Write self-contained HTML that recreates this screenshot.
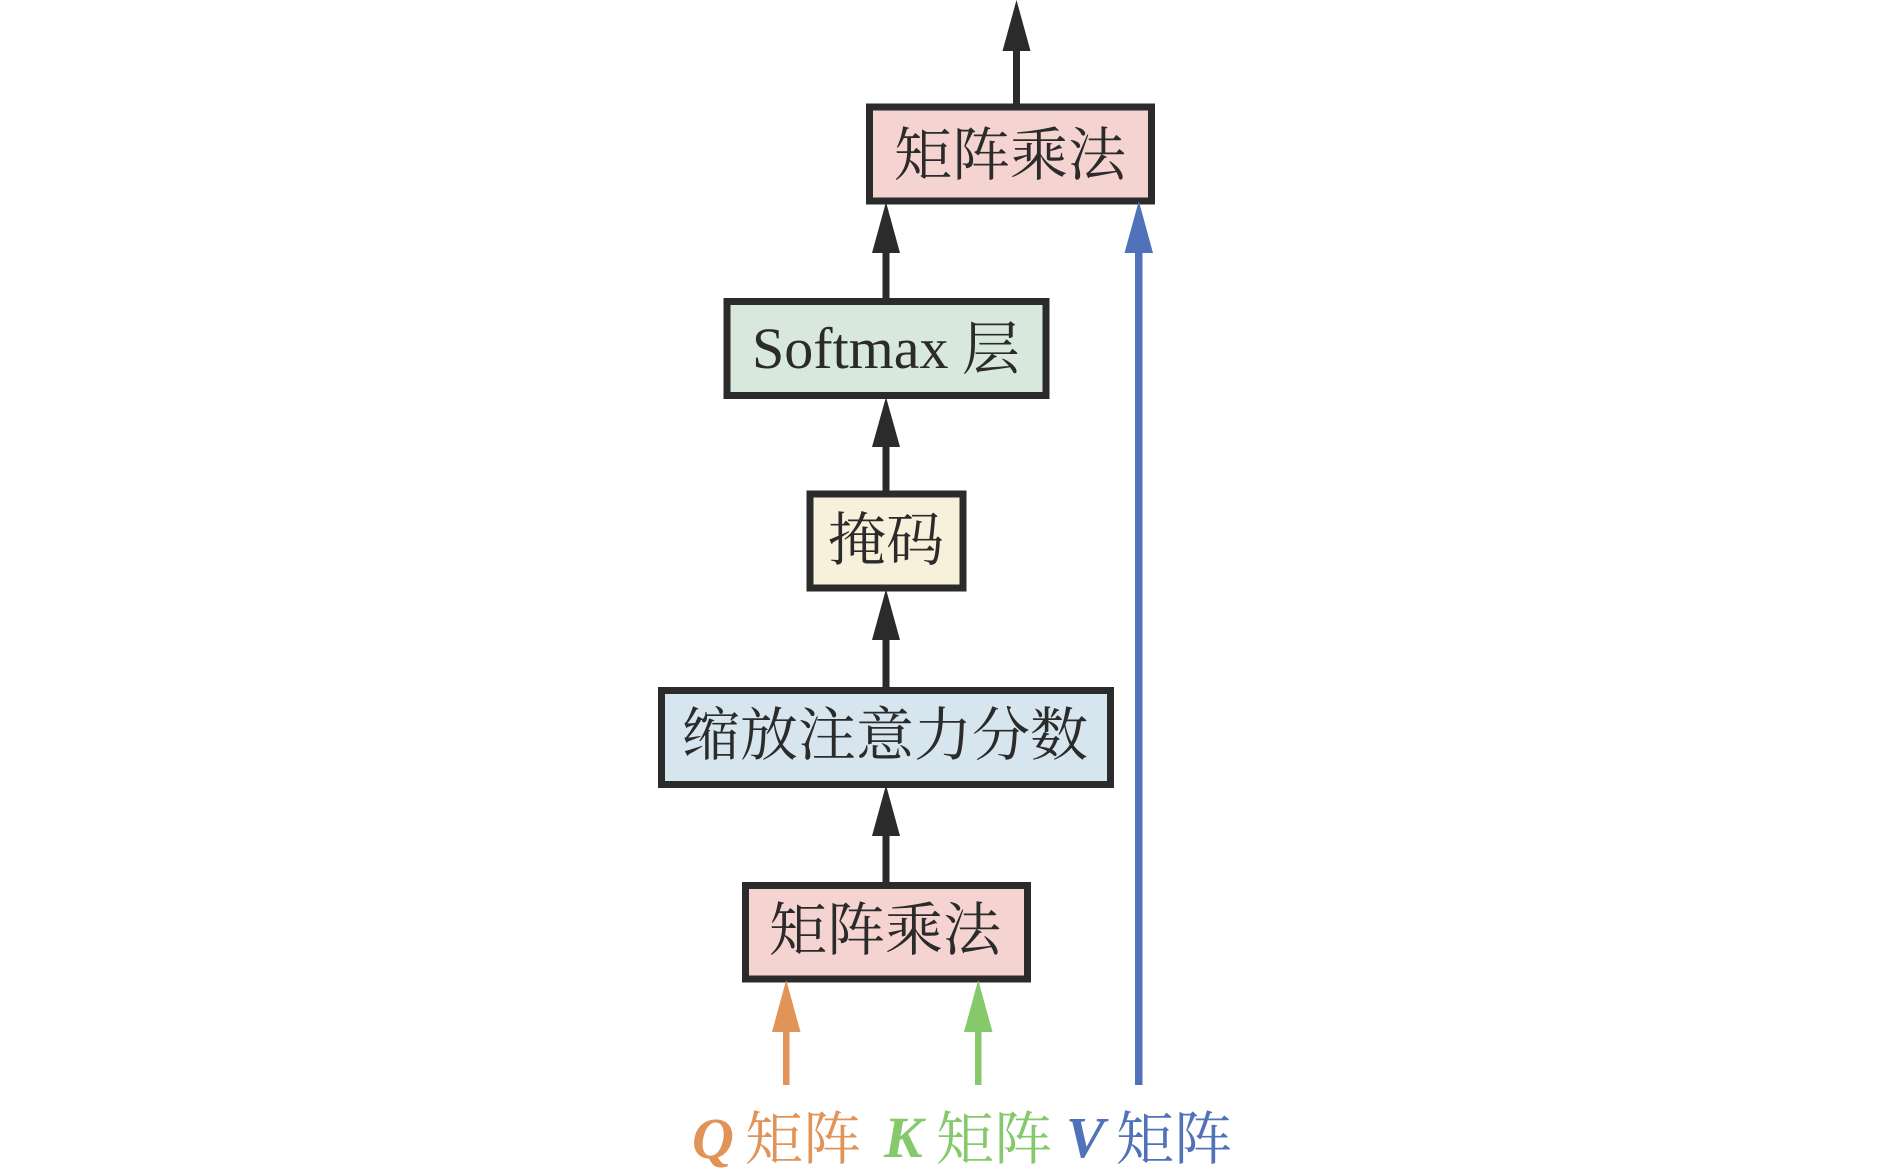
<!DOCTYPE html>
<html lang="zh">
<head>
<meta charset="utf-8">
<title>Diagram</title>
<style>
html,body{margin:0;padding:0;background:#fff;}
svg{display:block;}
text{font-family:"Liberation Serif","Noto Serif CJK SC",serif;font-size:58px;fill:#2b2b2b;}
.v{font-weight:bold;font-style:italic;font-size:58px;}
</style>
</head>
<body>
<svg width="1890" height="1176" viewBox="0 0 1890 1176" xmlns="http://www.w3.org/2000/svg">
<rect width="1890" height="1176" fill="#fff"/>

<!-- boxes -->
<rect x="869.500" y="107" width="282" height="94" fill="#f4d3d0" stroke="#2b2b2b" stroke-width="7"/>
<rect x="727" y="301.500" width="319" height="94" fill="#d8e8dc" stroke="#2b2b2b" stroke-width="7"/>
<rect x="810" y="494" width="153" height="94" fill="#f7f0da" stroke="#2b2b2b" stroke-width="7"/>
<rect x="661.500" y="690.500" width="449" height="94" fill="#d7e6ee" stroke="#2b2b2b" stroke-width="7"/>
<rect x="745.500" y="885.500" width="282" height="93.500" fill="#f4d3d0" stroke="#2b2b2b" stroke-width="7"/>

<!-- dark arrows -->
<g fill="#2b2b2b">
<rect x="1013" y="48" width="7" height="56"/><polygon points="1016.500,0 1030.500,51 1002.500,51"/>
<rect x="882.500" y="250" width="7" height="49"/><polygon points="886,202 900,253 872,253"/>
<rect x="882.500" y="444" width="7" height="48"/><polygon points="886,397 900,447 872,447"/>
<rect x="882.500" y="637" width="7" height="50"/><polygon points="886,589 900,640 872,640"/>
<rect x="882.500" y="833" width="7" height="49"/><polygon points="886,785 900,836 872,836"/>
</g>

<!-- coloured arrows -->
<g fill="#e29358">
<rect x="783" y="1030" width="6.500" height="55"/><polygon points="786.200,980 800.500,1032 772,1032"/>
</g>
<g fill="#85c96b">
<rect x="975" y="1030" width="6.500" height="55"/><polygon points="978.200,980 992.500,1032 964,1032"/>
</g>
<g fill="#4f72b8">
<rect x="1135" y="250" width="7.500" height="835"/><polygon points="1138.800,201 1153,253 1124.500,253"/>
</g>

<!-- box labels -->
<text x="1010" y="175" text-anchor="middle">矩阵乘法</text>
<text x="752" y="368" style="font-size:58px">Softmax</text>
<text x="962" y="369">层</text>
<text x="886" y="560" text-anchor="middle">掩码</text>
<text x="885" y="755" text-anchor="middle">缩放注意力分数</text>
<text x="885" y="950" text-anchor="middle">矩阵乘法</text>

<!-- bottom labels -->
<text class="v" x="692" y="1158" style="fill:#e29358">Q</text>
<text x="745" y="1159" style="fill:#e29358">矩阵</text>
<text class="v" x="884" y="1157" style="fill:#85c96b">K</text>
<text x="936" y="1159" style="fill:#85c96b">矩阵</text>
<text class="v" x="1066" y="1157" style="fill:#4f72b8">V</text>
<text x="1116" y="1159" style="fill:#4f72b8">矩阵</text>
</svg>
</body>
</html>
